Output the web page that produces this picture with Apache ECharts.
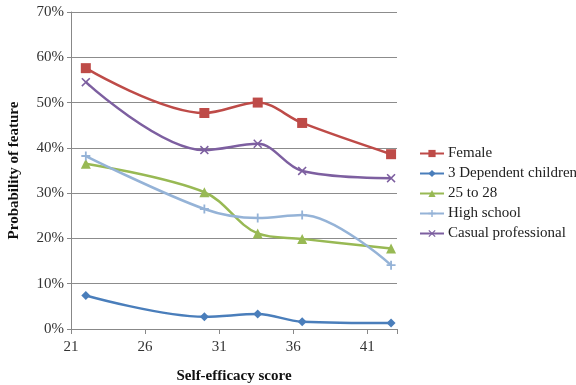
<!DOCTYPE html>
<html>
<head>
<meta charset="utf-8">
<script src="https://cdn.jsdelivr.net/npm/echarts@6/dist/echarts.min.js"></script>
<style>
  html, body { margin: 0; padding: 0; background: #fff; }
  #main { width: 576px; height: 385px; }
</style>
</head>
<body>
<div id="main"></div>
<script>
// self-efficacy scores where each feature was measured
const scores = [22.0, 30.0, 33.6, 36.6, 42.6]
const female = [57.6, 47.7, 50.0, 45.5, 38.6]
const dependentChildren = [7.4, 2.7, 3.3, 1.6, 1.3]
const age25to28 = [36.5, 30.2, 21.1, 19.9, 17.8]
const highSchool = [38.2, 26.5, 24.5, 25.2, 14.1]
const casualProfessional = [54.5, 39.5, 40.9, 34.9, 33.3]
const xTicks = [21, 26, 31, 36, 41]

const chartDom = document.getElementById('main')
const myChart = echarts.init(chartDom)

const plusPath = 'path://M4,0H6V4H10V6H6V10H4V6H0V4H4Z'
const crossPath = 'path://M1.2,0L5,3.8L8.8,0L10,1.2L6.2,5L10,8.8L8.8,10L5,6.2L1.2,10L0,8.8L3.8,5L0,1.2Z'

function mkSeries(name, vals, color, symbol, size) {
  return {
    name: name,
    type: 'line',
    smooth: 0.35,
    symbol: symbol,
    symbolSize: size,
    showAllSymbol: true,
    lineStyle: { color: color, width: 2.5 },
    itemStyle: { color: color },
    data: scores.map((s, i) => [s, vals[i]]),
  }
}

const option = {
  animation: false,
  textStyle: { fontFamily: 'Liberation Serif' },
  legend: {
    orient: 'vertical',
    left: 414,
    top: 141,
    itemWidth: 24,
    itemHeight: 9,
    itemGap: 5,
    textStyle: { fontFamily: 'Liberation Serif', fontSize: 15, color: '#222', padding: [0, 0, 0, -1] },
    data: ['Female', '3 Dependent children', '25 to 28', 'High school', 'Casual professional'],
  },
  grid: { left: 71, right: 179, top: 12, bottom: 56, outerBoundsMode: 'none' },
  xAxis: {
    type: 'value',
    min: 21,
    max: 43,
    interval: 5,
    name: 'Self-efficacy score',
    nameLocation: 'middle',
    nameGap: 40,
    nameTextStyle: { fontFamily: 'Liberation Serif', fontWeight: 'bold', fontSize: 15, color: '#111' },
    axisLine: { lineStyle: { color: '#888', width: 1 } },
    axisTick: { show: true, length: 5, lineStyle: { color: '#888' } },
    splitLine: { show: false },
    axisLabel: {
      color: '#333', fontSize: 15, margin: 11,
      formatter: v => (xTicks.indexOf(v) >= 0 ? String(v) : ''),
    },
  },
  yAxis: {
    type: 'value',
    min: 0,
    max: 70,
    interval: 10,
    name: 'Probability of feature',
    nameLocation: 'middle',
    nameGap: 49,
    nameTextStyle: { fontFamily: 'Liberation Serif', fontWeight: 'bold', fontSize: 15, color: '#111' },
    axisLine: { show: true, lineStyle: { color: '#888', width: 1 } },
    axisTick: { show: true, length: 4, lineStyle: { color: '#888' } },
    splitLine: { lineStyle: { color: '#8c8c8c', width: 1 } },
    axisLabel: { color: '#333', fontSize: 15, margin: 7, formatter: '{value}%' },
  },
  series: [
    mkSeries('Female', female, '#BE4B48', 'rect', 10),
    mkSeries('3 Dependent children', dependentChildren, '#4A7EBB', 'diamond', 9),
    mkSeries('25 to 28', age25to28, '#98B954', 'triangle', 10),
    mkSeries('High school', highSchool, '#95B3D7', plusPath, 9),
    mkSeries('Casual professional', casualProfessional, '#7D5FA0', crossPath, 9),
  ],
}
option && myChart.setOption(option)
</script>
</body>
</html>
